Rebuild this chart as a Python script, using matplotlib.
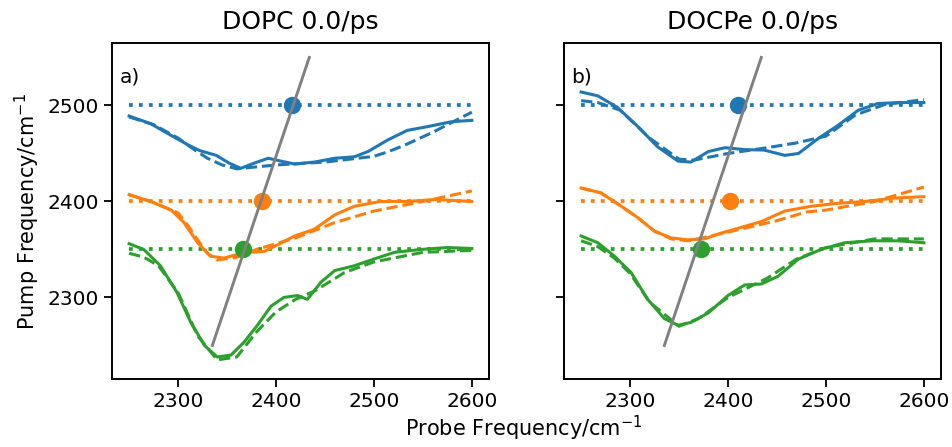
import matplotlib
matplotlib.use("Agg")
import matplotlib.pyplot as plt

BLUE, ORANGE, GREEN = "#1f77b4", "#ff7f0e", "#2ca02c"

# reference pump frequencies (dotted lines)
pump_levels = [2500, 2400, 2350]
probe_range = [2250, 2600]

# gray guide line (same for both panels)
guide_x = [2335, 2434]
guide_y = [2250, 2550]

# ---- panel a) DOPC ----
a_blue_x = [2250, 2272, 2296, 2310, 2322, 2339, 2352, 2364, 2378, 2392, 2405, 2419, 2439, 2460, 2480, 2494, 2514, 2534, 2555, 2579, 2600]
a_blue_y = [2489, 2481, 2467, 2459, 2453, 2448, 2440, 2434.5, 2440, 2445, 2442, 2439, 2441, 2445, 2446.5, 2452, 2464, 2474, 2478, 2483, 2484.5]
a_blue_dx = [2250, 2275, 2300, 2315, 2330, 2345, 2360, 2380, 2400, 2450, 2500, 2515, 2530, 2560, 2600]
a_blue_dy = [2488, 2480, 2466, 2455, 2445, 2438, 2434, 2436, 2438, 2441, 2447, 2452, 2458, 2472, 2493]

a_orange_x = [2250, 2272, 2293, 2306, 2320, 2333, 2347, 2361, 2374, 2388, 2402, 2419, 2439, 2460, 2480, 2507, 2534, 2562, 2600]
a_orange_y = [2407, 2400, 2391, 2378, 2357, 2343, 2341, 2345, 2347, 2348, 2355, 2364, 2371, 2386, 2395, 2400, 2400, 2402, 2400]
a_orange_dx = [2250, 2275, 2300, 2310, 2320, 2330, 2340, 2360, 2380, 2420, 2460, 2500, 2550, 2600]
a_orange_dy = [2407, 2399, 2388, 2375, 2360, 2346, 2339, 2342, 2350, 2362, 2378, 2390, 2400, 2411]

a_green_x = [2250, 2265, 2282, 2299, 2313, 2327, 2340, 2354, 2367, 2381, 2395, 2408, 2422, 2432, 2446, 2460, 2480, 2500, 2521, 2548, 2575, 2600]
a_green_y = [2356, 2350, 2333, 2305, 2274, 2250, 2238, 2240, 2253, 2271, 2291, 2300, 2302, 2298, 2316, 2328, 2333, 2340, 2347, 2350, 2352, 2351]
a_green_dx = [2250, 2265, 2280, 2300, 2320, 2340, 2360, 2380, 2400, 2420, 2440, 2470, 2500, 2550, 2600]
a_green_dy = [2346, 2342, 2333, 2305, 2260, 2235, 2238, 2264, 2285, 2298, 2307, 2326, 2337, 2347, 2349]

a_dots_x = [2416, 2386, 2366]

# ---- panel b) DOCPe ----
b_blue_x = [2250, 2267, 2287, 2308, 2328, 2349, 2362, 2380, 2397, 2417, 2437, 2458, 2472, 2492, 2512, 2533, 2553, 2574, 2600]
b_blue_y = [2514, 2510, 2498, 2478, 2457, 2442, 2441, 2452, 2456, 2454, 2453.5, 2448, 2450, 2465.5, 2479, 2495, 2502, 2503, 2503]
b_blue_dx = [2250, 2267, 2290, 2320, 2350, 2365, 2400, 2440, 2470, 2500, 2530, 2560, 2600]
b_blue_dy = [2505, 2503, 2495, 2466, 2444, 2443, 2450, 2456, 2461, 2468, 2490, 2501, 2506]

b_orange_x = [2250, 2270, 2291, 2308, 2325, 2342, 2359, 2376, 2393, 2410, 2434, 2458, 2485, 2512, 2540, 2570, 2600]
b_orange_y = [2414, 2409, 2395, 2383, 2369, 2362, 2360, 2361, 2367, 2372, 2379, 2390, 2395, 2398, 2400, 2403.5, 2405]
b_orange_dx = [2250, 2270, 2291, 2308, 2325, 2342, 2360, 2400, 2450, 2480, 2500, 2550, 2600]
b_orange_dy = [2414, 2409, 2395, 2383, 2369, 2361, 2359, 2368, 2380, 2389, 2391, 2400, 2415]

b_green_x = [2250, 2267, 2284, 2301, 2318, 2335, 2349, 2362, 2380, 2400, 2417, 2434, 2451, 2472, 2495, 2519, 2547, 2574, 2600]
b_green_y = [2364, 2357, 2343, 2326, 2298, 2278, 2271, 2274, 2284, 2302, 2313, 2314, 2322, 2340, 2350, 2357, 2359, 2359, 2357]
b_green_dx = [2250, 2267, 2284, 2300, 2320, 2350, 2370, 2400, 2440, 2470, 2500, 2550, 2600]
b_green_dy = [2359, 2353, 2341, 2325, 2295, 2270, 2278, 2300, 2320, 2340, 2352, 2361, 2361]

b_dots_x = [2410, 2402, 2372]

x_ticks = [2300, 2400, 2500, 2600]
y_ticks = [2300, 2400, 2500]


def draw_panel(ax, curves, dots_x, label, title):
    """Draw one 2D-IR slice panel: dotted pump levels, solid/dashed slices, dots and guide."""
    colors = [BLUE, ORANGE, GREEN]
    for level, c in zip(pump_levels, colors):
        ax.plot(probe_range, [level, level], ":", color=c, lw=2.7, zorder=1)
    for (sx, sy, dx, dy), c in zip(curves, colors):
        ax.plot(sx, sy, "-", color=c, lw=2.2, zorder=2, solid_joinstyle="round")
        ax.plot(dx, dy, "--", color=c, lw=2.2, zorder=2)
    for px, level, c in zip(dots_x, pump_levels, colors):
        ax.plot(px, level, "o", color=c, ms=11.5, zorder=3)
    ax.plot(guide_x, guide_y, "-", color="grey", lw=2.1, zorder=4)

    ax.set_xlim(2232.5, 2617.5)
    ax.set_ylim(2215, 2565)
    ax.set_xticks(x_ticks)
    ax.set_yticks(y_ticks)
    ax.tick_params(labelsize=14.5, width=1.3, length=6)
    for sp in ax.spines.values():
        sp.set_linewidth(1.4)
    ax.set_title(title, fontsize=18, pad=10)
    ax.text(0.02, 0.9, label, transform=ax.transAxes, fontsize=14.5, va="center")


fig = plt.figure(figsize=(9.53, 4.47), dpi=100)
ax1 = fig.add_axes([0.1175, 0.152, 0.3956, 0.7517])
ax2 = fig.add_axes([0.5918, 0.152, 0.3956, 0.7517], sharey=ax1)

draw_panel(ax1,
           [(a_blue_x, a_blue_y, a_blue_dx, a_blue_dy),
            (a_orange_x, a_orange_y, a_orange_dx, a_orange_dy),
            (a_green_x, a_green_y, a_green_dx, a_green_dy)],
           a_dots_x, "a)", "DOPC 0.0/ps")
draw_panel(ax2,
           [(b_blue_x, b_blue_y, b_blue_dx, b_blue_dy),
            (b_orange_x, b_orange_y, b_orange_dx, b_orange_dy),
            (b_green_x, b_green_y, b_green_dx, b_green_dy)],
           b_dots_x, "b)", "DOCPe 0.0/ps")
ax2.tick_params(labelleft=False)

ax1.set_ylabel("Pump Frequency/cm$^{-1}$", fontsize=15)
fig.text(0.55, 0.042, "Probe Frequency/cm$^{-1}$", fontsize=15, ha="center", va="center")

fig.savefig("out.png", dpi=100)
